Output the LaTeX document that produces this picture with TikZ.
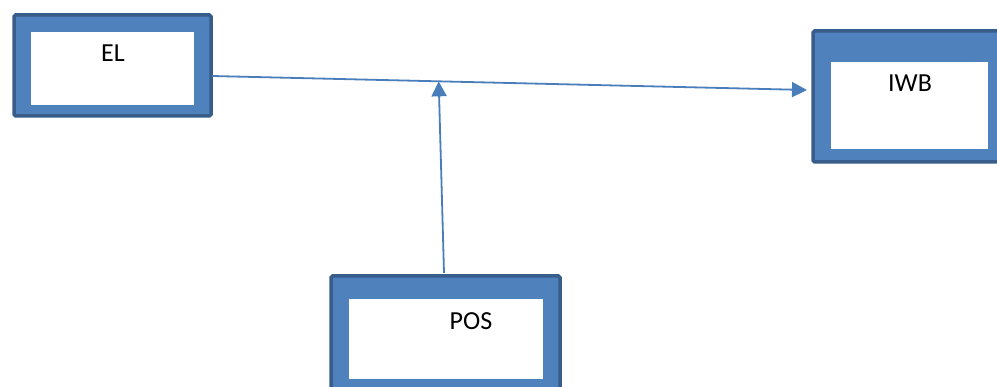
\documentclass[tikz,border=0pt]{standalone}
\usepackage{fontspec}
\setmainfont{Carlito}
\usetikzlibrary{arrows.meta,calc}
\definecolor{boxfill}{HTML}{4F81BD}
\definecolor{boxedge}{HTML}{385D8A}
\definecolor{linkblue}{HTML}{4A7EBB}
\tikzset{
  outerbox/.style={draw=boxedge, fill=boxfill, line width=3.5pt, rounded corners=1.5pt, inner sep=0pt, outer sep=0pt},
  innerbox/.style={fill=white, inner sep=0pt, outer sep=0pt},
  label/.style={font=\fontsize{26}{30}\selectfont, text=black, inner sep=0pt},
  link/.style={draw=linkblue, line width=1.8pt, -{Triangle[length=15pt,width=15pt]}},
}
\begin{document}
\begin{tikzpicture}[x=1pt,y=-1pt]
  \useasboundingbox (0,0) rectangle (997,387);
  \clip (0,0) rectangle (997,387);
  % EL block
  \node[outerbox, minimum width=197pt, minimum height=101pt] (EL) at (112.5,65.5) {};
  \node[innerbox, minimum width=163pt, minimum height=73pt] (ELin) at (112.5,68.5) {};
  \node[label] (ELtxt) at (113,53) {EL};
  % IWB block (runs past the right edge)
  \node[outerbox, minimum width=193pt, minimum height=131pt] (IWB) at (909.5,96.5) {};
  \node[innerbox, minimum width=157pt, minimum height=87pt] (IWBin) at (909.5,105.5) {};
  \node[label] (IWBtxt) at (910,83) {IWB};
  % POS block (runs past the bottom edge)
  \node[outerbox, minimum width=229pt, minimum height=123pt] (POS) at (445.5,337.5) {};
  \node[innerbox, minimum width=194pt, minimum height=80pt] (POSin) at (446,339) {};
  \node[label] (POStxt) at (471,321) {POS};
  % connectors
  \draw[link] ($(EL.east)+(1,10.5)$) -- coordinate[pos=0.381] (junc) ($(IWB.west)+(-6,-6.5)$);
  \draw[link] ($(POS.north)+(-1.5,-3)$) -- (junc);
\end{tikzpicture}
\end{document}
